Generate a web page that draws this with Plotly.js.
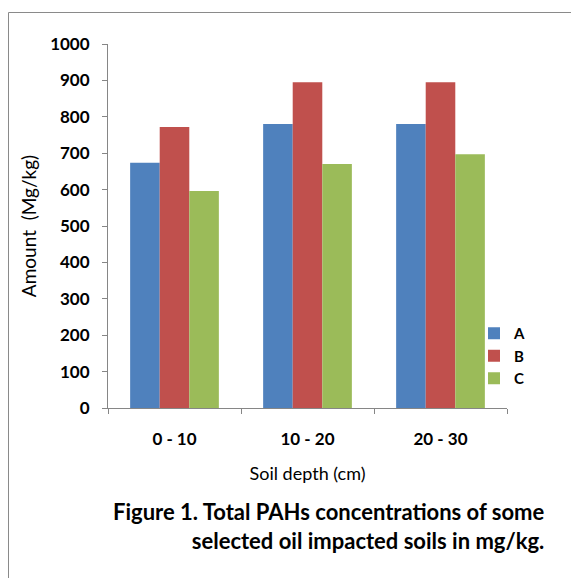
<!DOCTYPE html>
<html>
<head>
<meta charset="utf-8">
<script src="https://cdn.plot.ly/plotly-3.0.1.min.js"></script>
<style>body{margin:0;padding:0;background:#fff}#chart{width:571px;height:578px}</style>
</head>
<body>
<div id="chart"></div>
<script>
const categories = ['0 - 10', '10 - 20', '20 - 30'];
const seriesNames = ['A', 'B', 'C'];
const valuesA = [674, 780, 780];
const valuesB = [772, 895, 895];
const valuesC = [596, 670, 697];
const yTicks = [0, 100, 200, 300, 400, 500, 600, 700, 800, 900, 1000];
const colors = ['#4F81BD', '#C0504D', '#9BBB59'];
const captionLines = ['Figure 1. Total PAHs concentrations of some', 'selected oil impacted soils in mg/kg.'];

const FONT = 'Lato, "Open Sans", sans-serif';
const W = 571, H = 578;
const L = 108, R = 507, T = 44, B = 408;
const px = x => (x - L) / (R - L);
const py = y => (B - y) / (B - T);

const series = [valuesA, valuesB, valuesC];
const data = series.map((v, i) => ({
  type: 'bar', name: seriesNames[i], x: categories, y: v,
  marker: {color: colors[i], line: {width: 0}}
}));

const layout = {
  width: W, height: H,
  margin: {l: L, r: W - R, t: T, b: H - B, pad: 0},
  paper_bgcolor: '#fff', plot_bgcolor: '#fff',
  barmode: 'group', bargap: 0.333, bargroupgap: 0,
  font: {family: FONT, color: '#000', size: 15},
  showlegend: true,
  legend: {x: px(474), xanchor: 'left', y: py(317), yanchor: 'top',
    font: {family: FONT, size: 15, weight: 'bold', color: '#000'},
    bgcolor: 'rgba(0,0,0,0)', itemwidth: 30, tracegroupgap: 0},
  xaxis: {
    type: 'category', showgrid: false, zeroline: false,
    showline: true, linecolor: '#868686', linewidth: 1,
    ticks: 'outside', tickson: 'boundaries', ticklen: 5, tickcolor: '#868686',
    tickfont: {family: FONT, size: 17, weight: 'bold', color: '#000'},
    ticklabelstandoff: 16,
    title: {text: 'Soil depth (cm)', font: {family: FONT, size: 18, color: '#000'}, standoff: 18},
    fixedrange: true
  },
  yaxis: {
    range: [0, 1000], tickvals: yTicks, ticktext: yTicks.map(String),
    showgrid: false, zeroline: false,
    showline: true, linecolor: '#868686', linewidth: 1,
    ticks: 'outside', ticklen: 5, tickcolor: '#868686',
    tickfont: {family: FONT, size: 17, weight: 'bold', color: '#000'},
    ticklabelstandoff: 9,
    title: {text: 'Amount  (Mg/kg)', font: {family: FONT, size: 19, color: '#000'}, standoff: 8},
    fixedrange: true
  },
  shapes: [
    {type: 'line', xref: 'paper', yref: 'paper', x0: px(8.5), x1: px(8.5), y0: py(12.5), y1: py(600), line: {color: '#8a8a8a', width: 1}},
    {type: 'line', xref: 'paper', yref: 'paper', x0: px(8.5), x1: px(600), y0: py(12.5), y1: py(12.5), line: {color: '#8a8a8a', width: 1}}
  ],
  annotations: [
    {xref: 'paper', yref: 'paper', x: px(547), y: py(526), xanchor: 'right', yanchor: 'middle',
     align: 'right', showarrow: false,
     text: captionLines.join('<br>'),
     font: {family: FONT, size: 22, weight: 'bold', color: '#000'}}
  ]
};

Plotly.newPlot('chart', data, layout, {displayModeBar: false, staticPlot: true});
</script>
</body>
</html>
